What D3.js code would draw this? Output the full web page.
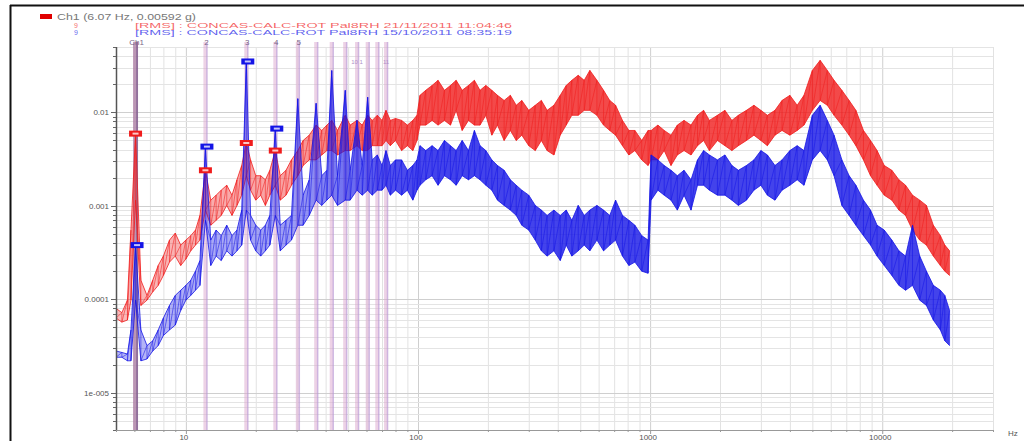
<!DOCTYPE html>
<html>
<head>
<meta charset="utf-8">
<script src="https://cdn.jsdelivr.net/npm/d3@7"></script>
<style>
  body { margin: 0; background: #fff; }
  svg { display: block; font-family: "Liberation Sans", Arial, sans-serif; }
</style>
</head>
<body>
<svg width="1024" height="441"></svg>
<script>
// colours
const RED = '#f01c1c';
const BLUE = '#1414e6';

// frequency bins (Hz)
const freqHz = [
  5, 5.3, 5.6, 5.8, 6.07, 6.4, 6.8, 7.2, 7.6, 8,
  8.5, 9, 9.5, 10, 10.5, 11, 11.5, 12.14, 12.8, 13.5,
  14.2, 15, 15.8, 16.6, 17.4, 18.21, 19, 20, 21, 22,
  23, 24.28, 25.5, 27, 28.5, 30.35, 32, 34, 36.4, 38.5,
  40.5, 42.5, 45, 48.6, 51, 54.6, 57.5, 60.7, 63.5, 66.8,
  70, 72.8, 76, 80, 85, 90, 95, 99, 102, 108,
  115, 122, 130, 138, 146, 155, 165, 175, 185, 196,
  208, 220, 235, 250, 265, 280, 300, 320, 340, 360,
  385, 410, 435, 460, 490, 520, 550, 590, 630, 670,
  710, 760, 810, 860, 920, 980, 1010, 1080, 1150, 1230,
  1310, 1400, 1500, 1600, 1700, 1800, 1950, 2100, 2250, 2400,
  2600, 2800, 3000, 3200, 3450, 3700, 4000, 4300, 4600, 5000,
  5400, 5800, 6200, 6700, 7200, 7700, 8300, 8900, 9500, 10200,
  11000, 11800, 12600, 13500, 14500, 15500, 16600, 17800, 18600, 19500
];

// 21/11/2011 record (g) : upper / lower edge of the noisy trace
const redHi = [
  8.0e-5, 7.2e-5, 9.8e-5, 5.5e-4, 5.92e-3, 1.6e-4, 1.1e-4, 1.6e-4, 2.3e-4, 2.9e-4,
  4.3e-4, 5.1e-4, 3.8e-4, 4.3e-4, 4.8e-4, 5.5e-4, 7.9e-4, 2.4e-3, 1.15e-3, 1.3e-3,
  1.47e-3, 1.66e-3, 1.3e-3, 1.9e-3, 2.7e-3, 4.7e-3, 3.1e-3, 2.1e-3, 2.1e-3, 1.9e-3,
  2.4e-3, 3.9e-3, 2.1e-3, 2.4e-3, 3.1e-3, 3.9e-3, 5.0e-3, 5.7e-3, 7.3e-3, 6.4e-3,
  7.3e-3, 8.2e-3, 6.4e-3, 9.3e-3, 7.3e-3, 8.2e-3, 7.3e-3, 9.3e-3, 8.2e-3, 9.3e-3,
  8.2e-3, 1.05e-2, 8.2e-3, 8.6e-3, 8.2e-3, 7.3e-3, 8.2e-3, 9.3e-3, 1.52e-2, 1.72e-2,
  1.94e-2, 2.2e-2, 1.72e-2, 1.94e-2, 2.2e-2, 1.72e-2, 1.94e-2, 2.2e-2, 1.72e-2, 1.94e-2,
  1.72e-2, 1.52e-2, 1.34e-2, 1.52e-2, 1.19e-2, 1.34e-2, 1.05e-2, 1.19e-2, 1.34e-2, 1.05e-2,
  1.19e-2, 1.52e-2, 1.94e-2, 2.2e-2, 2.49e-2, 2.2e-2, 2.81e-2, 2.2e-2, 1.72e-2, 1.34e-2,
  1.19e-2, 8.2e-3, 6.4e-3, 6.4e-3, 5.0e-3, 6.4e-3, 6.4e-3, 7.3e-3, 6.4e-3, 5.7e-3,
  7.3e-3, 8.2e-3, 7.3e-3, 9.3e-3, 1.05e-2, 8.2e-3, 9.3e-3, 1.05e-2, 8.2e-3, 9.3e-3,
  1.05e-2, 1.19e-2, 1.05e-2, 9.3e-3, 1.05e-2, 1.34e-2, 1.52e-2, 1.19e-2, 1.52e-2, 2.81e-2,
  3.6e-2, 2.81e-2, 2.2e-2, 1.72e-2, 1.34e-2, 1.05e-2, 6.4e-3, 5.0e-3, 3.9e-3, 2.7e-3,
  2.4e-3, 1.9e-3, 1.66e-3, 1.3e-3, 1.15e-3, 1.01e-3, 6.2e-4, 4.8e-4, 3.8e-4, 3.3e-4
];
const redLo = [
  6.3e-5, 5.7e-5, 6.0e-5, 9.8e-5, 1.15e-3, 8.6e-5, 9.8e-5, 1.2e-4, 1.41e-4, 1.8e-4,
  2.5e-4, 2.9e-4, 2.3e-4, 2.7e-4, 3.3e-4, 3.8e-4, 4.3e-4, 9.0e-4, 6.2e-4, 7.0e-4,
  7.9e-4, 1.01e-3, 7.9e-4, 1.01e-3, 1.3e-3, 2.1e-3, 1.47e-3, 1.15e-3, 1.3e-3, 1.01e-3,
  1.3e-3, 1.66e-3, 1.15e-3, 1.3e-3, 1.66e-3, 2.1e-3, 2.7e-3, 3.1e-3, 3.1e-3, 3.5e-3,
  3.9e-3, 3.9e-3, 3.5e-3, 3.9e-3, 3.9e-3, 4.4e-3, 3.9e-3, 3.9e-3, 4.4e-3, 4.4e-3,
  4.4e-3, 5.0e-3, 4.4e-3, 5.0e-3, 3.9e-3, 4.4e-3, 3.9e-3, 5.0e-3, 7.3e-3, 7.3e-3,
  8.2e-3, 7.3e-3, 8.2e-3, 7.3e-3, 1.05e-2, 6.4e-3, 8.2e-3, 7.3e-3, 7.3e-3, 9.3e-3,
  5.7e-3, 7.3e-3, 5.0e-3, 6.4e-3, 5.0e-3, 5.7e-3, 4.4e-3, 3.9e-3, 5.0e-3, 3.9e-3,
  3.5e-3, 5.7e-3, 7.3e-3, 9.3e-3, 9.3e-3, 1.05e-2, 1.05e-2, 9.3e-3, 7.3e-3, 6.4e-3,
  5.7e-3, 4.4e-3, 3.5e-3, 3.9e-3, 3.1e-3, 2.7e-3, 3.1e-3, 3.1e-3, 3.9e-3, 2.7e-3,
  3.5e-3, 3.9e-3, 3.5e-3, 4.4e-3, 5.0e-3, 3.9e-3, 5.0e-3, 4.4e-3, 3.9e-3, 4.4e-3,
  5.0e-3, 5.7e-3, 5.0e-3, 4.4e-3, 5.7e-3, 6.4e-3, 5.7e-3, 6.4e-3, 7.3e-3, 1.05e-2,
  1.34e-2, 1.19e-2, 9.3e-3, 7.3e-3, 5.7e-3, 4.4e-3, 3.1e-3, 2.1e-3, 1.66e-3, 1.3e-3,
  1.15e-3, 9.0e-4, 7.9e-4, 5.5e-4, 4.3e-4, 3.8e-4, 2.9e-4, 2.3e-4, 2.0e-4, 1.8e-4
];

// 15/10/2011 record (g)
const blueHi = [
  2.8e-5, 2.7e-5, 2.6e-5, 4.7e-5, 3.8e-4, 4.7e-5, 3.2e-5, 3.6e-5, 4.7e-5, 6.3e-5,
  8.6e-5, 1.1e-4, 1.25e-4, 1.41e-4, 1.6e-4, 2.0e-4, 2.6e-4, 4.3e-3, 4.3e-4, 5.5e-4,
  4.8e-4, 6.2e-4, 4.8e-4, 5.5e-4, 9.0e-4, 3.5e-2, 7.9e-4, 6.2e-4, 5.5e-4, 6.2e-4,
  7.9e-4, 6.7e-3, 6.2e-4, 7.0e-4, 7.9e-4, 1.4e-2, 1.3e-3, 1.9e-3, 1.25e-2, 2.1e-3,
  2.4e-3, 2.8e-2, 2.1e-3, 1.72e-2, 2.4e-3, 8.2e-3, 2.7e-3, 1.45e-2, 3.1e-3, 3.5e-3,
  2.7e-3, 3.9e-3, 2.7e-3, 3.1e-3, 3.1e-3, 2.4e-3, 2.7e-3, 3.1e-3, 4.4e-3, 3.9e-3,
  4.4e-3, 3.9e-3, 5.0e-3, 4.4e-3, 3.9e-3, 5.0e-3, 3.9e-3, 6.4e-3, 4.4e-3, 3.9e-3,
  3.1e-3, 2.7e-3, 2.4e-3, 1.9e-3, 1.66e-3, 1.47e-3, 1.3e-3, 1.01e-3, 9.0e-4, 7.9e-4,
  9.0e-4, 7.9e-4, 9.0e-4, 7.0e-4, 1.01e-3, 7.9e-4, 9.0e-4, 1.01e-3, 9.0e-4, 7.9e-4,
  1.15e-3, 7.9e-4, 7.0e-4, 6.2e-4, 4.8e-4, 4.3e-4, 3.5e-3, 3.1e-3, 2.7e-3, 2.4e-3,
  2.1e-3, 2.4e-3, 1.9e-3, 3.1e-3, 3.9e-3, 3.5e-3, 3.1e-3, 3.5e-3, 2.7e-3, 2.4e-3,
  2.7e-3, 3.1e-3, 3.9e-3, 3.5e-3, 2.7e-3, 3.1e-3, 3.9e-3, 4.4e-3, 3.9e-3, 9.3e-3,
  1.19e-2, 8.2e-3, 5.7e-3, 3.1e-3, 2.1e-3, 1.66e-3, 1.15e-3, 9.0e-4, 6.2e-4, 5.5e-4,
  4.3e-4, 3.3e-4, 2.9e-4, 6.2e-4, 2.9e-4, 2.0e-4, 1.41e-4, 1.25e-4, 1.1e-4, 7.6e-5
];
const blueLo = [
  2.4e-5, 2.4e-5, 2.2e-5, 2.2e-5, 9.8e-5, 2.2e-5, 2.3e-5, 2.8e-5, 3.2e-5, 4.1e-5,
  4.7e-5, 5.3e-5, 7.6e-5, 9.8e-5, 1.1e-4, 1.25e-4, 1.41e-4, 7.0e-4, 2.3e-4, 2.9e-4,
  2.6e-4, 3.3e-4, 2.9e-4, 3.3e-4, 3.8e-4, 9.0e-4, 4.3e-4, 3.3e-4, 2.9e-4, 3.3e-4,
  3.8e-4, 7.9e-4, 3.3e-4, 3.8e-4, 4.3e-4, 6.2e-4, 6.2e-4, 7.9e-4, 1.15e-3, 1.01e-3,
  1.15e-3, 1.3e-3, 1.01e-3, 1.15e-3, 1.15e-3, 1.47e-3, 1.3e-3, 1.47e-3, 1.3e-3, 1.47e-3,
  1.47e-3, 1.66e-3, 1.3e-3, 1.47e-3, 1.3e-3, 1.47e-3, 1.15e-3, 1.47e-3, 1.66e-3, 1.9e-3,
  2.1e-3, 1.66e-3, 2.1e-3, 1.9e-3, 1.66e-3, 2.1e-3, 1.9e-3, 2.1e-3, 1.9e-3, 1.66e-3,
  1.47e-3, 1.15e-3, 1.01e-3, 9.0e-4, 7.9e-4, 6.2e-4, 5.5e-4, 4.3e-4, 3.3e-4, 2.9e-4,
  3.3e-4, 2.6e-4, 3.8e-4, 2.9e-4, 3.3e-4, 3.8e-4, 3.3e-4, 4.3e-4, 3.3e-4, 3.8e-4,
  4.3e-4, 2.9e-4, 2.3e-4, 2.5e-4, 2.0e-4, 1.9e-4, 1.15e-3, 1.47e-3, 1.3e-3, 1.15e-3,
  9.0e-4, 1.3e-3, 9.0e-4, 1.66e-3, 1.66e-3, 1.47e-3, 1.3e-3, 1.3e-3, 1.15e-3, 1.01e-3,
  1.15e-3, 1.47e-3, 1.66e-3, 1.3e-3, 1.15e-3, 1.47e-3, 1.66e-3, 1.9e-3, 1.66e-3, 3.1e-3,
  3.9e-3, 3.1e-3, 2.1e-3, 1.01e-3, 7.9e-4, 6.2e-4, 4.8e-4, 3.8e-4, 2.9e-4, 2.3e-4,
  1.8e-4, 1.41e-4, 1.25e-4, 1.41e-4, 9.8e-5, 8.6e-5, 6.0e-5, 4.7e-5, 3.6e-5, 3.2e-5
];

// harmonic cursors of the 6.07 Hz line
const baseHz = 6.07;
const harmonics = [1, 2, 3, 4, 5, 6, 7, 8, 9, 10, 11, 12];
const harmonicLabels = ['Ch1', '2', '3', '4', '5'];
const extraTags = [{ k: 9, text: '10 1' }, { k: 12, text: '11' }];

// marker boxes at the first 4 harmonics
const markerK = [1, 2, 3, 4];
const redMarks = [0.00592, 0.0024, 0.0047, 0.0039];
const blueMarks = [0.00038, 0.0043, 0.035, 0.0067];

// axis ticks
const yTickValues = [0.01, 0.001, 0.0001, 0.00001];
const yTickLabels = ['0.01', '0.001', '0.0001', '1e-005'];
const xTickValues = [10, 100, 1000, 10000];
const xTickLabels = ['10', '100', '1000', '10000'];

const legendTitle = 'Ch1 (6.07 Hz, 0.00592 g)';
const legendRows = [
  { tag: '9', text: '[RMS] : CONCAS-CALC-ROT Pal8RH 21/11/2011 11:04:46', color: RED },
  { tag: '9', text: '[RMS] : CONCAS-CALC-ROT Pal8RH 15/10/2011 08:35:19', color: BLUE }
];

// layout
const svg = d3.select('svg');
const plot = { left: 116, right: 993, top: 47, bottom: 430 };

const x = d3.scaleLog().domain([5, 30000]).range([plot.left, plot.right]);
const y = d3.scaleLog().domain([4e-6, 0.05]).range([plot.bottom, plot.top]);

const defs = svg.append('defs');
defs.append('clipPath').attr('id', 'clip')
  .append('rect')
  .attr('x', plot.left).attr('y', plot.top - 6)
  .attr('width', plot.right - plot.left)
  .attr('height', plot.bottom - plot.top + 6);

// low-frequency part of the traces is a thin, lighter line in the original
function fadeGradient(id, color) {
  const g = defs.append('linearGradient').attr('id', id)
    .attr('gradientUnits', 'userSpaceOnUse')
    .attr('x1', x(5)).attr('x2', x(120)).attr('y1', 0).attr('y2', 0);
  [[0, 0.3], [0.55, 0.42], [0.85, 0.75], [1, 0.8]].forEach(([o, a]) => {
    g.append('stop').attr('offset', o).attr('stop-color', color).attr('stop-opacity', a);
  });
}
fadeGradient('fadeRed', RED);
fadeGradient('fadeBlue', BLUE);

// outer frame (only left and top edges visible)
svg.append('line')
  .attr('x1', 10.5).attr('x2', 10.5).attr('y1', 5).attr('y2', 441)
  .attr('stroke', '#111').attr('stroke-width', 2);
svg.append('line')
  .attr('x1', 10).attr('x2', 1024).attr('y1', 5.5).attr('y2', 5.5)
  .attr('stroke', '#111').attr('stroke-width', 2);

// grid
const xGrid = [];
[1, 10, 100, 1000, 10000].forEach(d => d3.range(1, 10).forEach(m => {
  const v = m * d;
  if (v >= 5 && v <= 30000) xGrid.push(v);
}));
const yGrid = [];
[1e-6, 1e-5, 1e-4, 1e-3, 1e-2].forEach(d => d3.range(1, 10).forEach(m => {
  const v = +(m * d).toPrecision(3);
  if (v >= 4e-6 && v <= 0.05) yGrid.push(v);
}));

const grid = svg.append('g');
grid.selectAll('.vg').data(xGrid).enter().append('line')
  .attr('x1', d => x(d) + 0.5).attr('x2', d => x(d) + 0.5)
  .attr('y1', plot.top).attr('y2', plot.bottom)
  .attr('stroke', d => xTickValues.includes(d) ? '#cfcfcf' : '#e2e2e2')
  .attr('stroke-width', 1);
grid.selectAll('.hg').data(yGrid).enter().append('line')
  .attr('x1', plot.left).attr('x2', plot.right)
  .attr('y1', d => Math.round(y(d)) + 0.5).attr('y2', d => Math.round(y(d)) + 0.5)
  .attr('stroke', d => yTickValues.includes(d) ? '#cfcfcf' : '#e4e4e4')
  .attr('stroke-width', 1);

// harmonic cursor bands
const cursors = svg.append('g');
cursors.selectAll('.band').data(harmonics).enter().append('line')
  .attr('x1', k => x(baseHz * k)).attr('x2', k => x(baseHz * k))
  .attr('y1', plot.top - 5).attr('y2', plot.bottom)
  .attr('stroke', k => k === 1 ? 'rgba(170,120,160,0.75)' : 'rgba(220,165,205,0.5)')
  .attr('stroke-width', k => k === 1 ? 5 : 4);
cursors.selectAll('.core').data(harmonics).enter().append('line')
  .attr('x1', k => x(baseHz * k) + 1.5).attr('x2', k => x(baseHz * k) + 1.5)
  .attr('y1', plot.top - 5).attr('y2', plot.bottom)
  .attr('stroke', k => k === 1 ? 'rgba(120,90,140,0.8)' : 'rgba(175,150,215,0.5)')
  .attr('stroke-width', 1.5);

cursors.selectAll('.hl').data(harmonicLabels).enter().append('text')
  .attr('x', (d, i) => x(baseHz * (i + 1)) + 1)
  .attr('y', 45)
  .attr('text-anchor', 'middle')
  .attr('font-size', 8)
  .attr('fill', '#7a6688')
  .text(d => d);
cursors.selectAll('.xt').data(extraTags).enter().append('text')
  .attr('x', d => x(baseHz * d.k))
  .attr('y', 64)
  .attr('text-anchor', 'middle')
  .attr('font-size', 6)
  .attr('fill', '#b090c8')
  .text(d => d.text);

// spectra: filled band between the two edges, jagged edges, hatching
const rows = freqHz.map((f, i) => ({ f, rh: redHi[i], rl: redLo[i], bh: blueHi[i], bl: blueLo[i] }));
const plotG = svg.append('g').attr('clip-path', 'url(#clip)');

function drawSeries(hiKey, loKey, color, fillId) {
  plotG.append('path')
    .datum(rows)
    .attr('d', d3.area().x(d => x(d.f)).y0(d => y(d[loKey])).y1(d => y(d[hiKey])))
    .attr('fill', `url(#${fillId})`);
  [hiKey, loKey].forEach(key => {
    plotG.append('path')
      .datum(rows)
      .attr('d', d3.line().x(d => x(d.f)).y(d => y(d[key])))
      .attr('fill', 'none')
      .attr('stroke', color)
      .attr('stroke-width', 1)
      .attr('stroke-opacity', 0.8);
  });
  const zig = [];
  rows.forEach(d => { zig.push([d.f, d[hiKey]]); zig.push([d.f, d[loKey]]); });
  plotG.append('path')
    .datum(zig)
    .attr('d', d3.line().x(d => x(d[0])).y(d => y(d[1])))
    .attr('fill', 'none')
    .attr('stroke', color)
    .attr('stroke-width', 0.9)
    .attr('stroke-opacity', 0.6);
}
drawSeries('rh', 'rl', RED, 'fadeRed');
drawSeries('bh', 'bl', BLUE, 'fadeBlue');

// marker boxes
function drawMarks(vals, color, dx) {
  const g = svg.append('g');
  g.selectAll('rect.m').data(markerK).enter().append('rect')
    .attr('x', k => x(baseHz * k) + dx - 6.5)
    .attr('y', (k, i) => y(vals[i]) - 3)
    .attr('width', 13).attr('height', 6)
    .attr('fill', color);
  g.selectAll('rect.c').data(markerK).enter().append('rect')
    .attr('x', k => x(baseHz * k) + dx - 3)
    .attr('y', (k, i) => y(vals[i]) - 1)
    .attr('width', 6).attr('height', 2)
    .attr('fill', '#fff').attr('opacity', 0.75);
}
drawMarks(redMarks, RED, 0);
drawMarks(blueMarks, BLUE, 1.5);

// axes
const axisG = svg.append('g');
axisG.append('line')
  .attr('x1', plot.left + 0.5).attr('x2', plot.left + 0.5)
  .attr('y1', plot.top).attr('y2', plot.bottom)
  .attr('stroke', '#555').attr('stroke-width', 1.5);
axisG.selectAll('.yt').data(yGrid).enter().append('line')
  .attr('x1', d => plot.left - (yTickValues.includes(d) ? 5 : 3)).attr('x2', plot.left)
  .attr('y1', d => Math.round(y(d)) + 0.5).attr('y2', d => Math.round(y(d)) + 0.5)
  .attr('stroke', '#666');
axisG.selectAll('.yl').data(yTickValues).enter().append('text')
  .attr('x', plot.left - 7)
  .attr('y', d => y(d) + 3)
  .attr('text-anchor', 'end')
  .attr('font-size', 8)
  .attr('fill', '#555')
  .text((d, i) => yTickLabels[i]);

axisG.append('line')
  .attr('x1', plot.left).attr('x2', plot.right)
  .attr('y1', plot.bottom + 0.5).attr('y2', plot.bottom + 0.5)
  .attr('stroke', '#999');
axisG.selectAll('.xt').data(xGrid).enter().append('line')
  .attr('x1', d => x(d) + 0.5).attr('x2', d => x(d) + 0.5)
  .attr('y1', plot.bottom).attr('y2', d => plot.bottom + (xTickValues.includes(d) ? 4 : 2))
  .attr('stroke', '#999');
axisG.selectAll('.xl').data(xTickValues).enter().append('text')
  .attr('x', d => x(d) - 2)
  .attr('y', 440)
  .attr('text-anchor', 'middle')
  .attr('font-size', 8)
  .attr('fill', '#555')
  .text((d, i) => xTickLabels[i]);
axisG.append('text')
  .attr('x', 1008).attr('y', 436)
  .attr('font-size', 8).attr('fill', '#555')
  .text('Hz');

// legend
const leg = svg.append('g');
leg.append('rect')
  .attr('x', 40).attr('y', 14).attr('width', 12).attr('height', 5)
  .attr('fill', '#e00000');
leg.append('text')
  .attr('x', 57).attr('y', 20)
  .attr('font-size', 8.5).attr('fill', '#777')
  .attr('textLength', 139).attr('lengthAdjust', 'spacingAndGlyphs')
  .text(legendTitle);
leg.selectAll('.tag').data(legendRows).enter().append('text')
  .attr('x', 76).attr('y', (d, i) => 28 + i * 7)
  .attr('text-anchor', 'middle')
  .attr('font-size', 7).attr('fill', d => d.color).attr('fill-opacity', 0.7)
  .text(d => d.tag);
leg.selectAll('.lt').data(legendRows).enter().append('text')
  .attr('x', 135).attr('y', (d, i) => 28 + i * 7)
  .attr('font-size', 8).attr('fill', d => d.color).attr('fill-opacity', 0.7)
  .attr('textLength', 377).attr('lengthAdjust', 'spacingAndGlyphs')
  .text(d => d.text);
</script>
</body>
</html>
